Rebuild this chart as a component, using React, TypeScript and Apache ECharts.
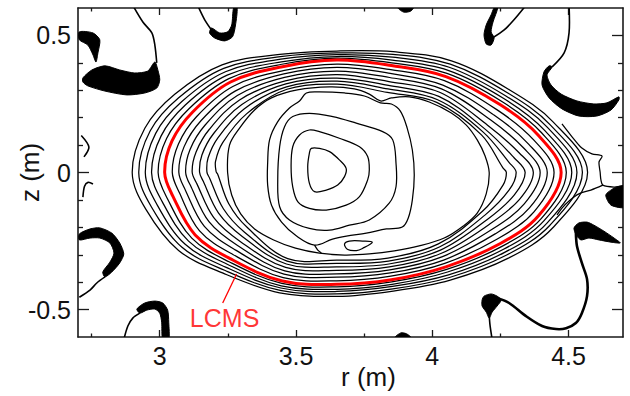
import React, { useEffect, useRef } from "react";
import * as echarts from "echarts";

type P = [number, number];

const R_RANGE: P = [2.7, 4.7];
const Z_RANGE: P = [-0.6, 0.6];
const rMajorTicks = [3, 3.5, 4, 4.5];
const rMinorTicks = [2.75, 3.25, 3.75, 4.25];
const zMajorTicks = [-0.5, 0, 0.5];
const zMinorTicks = [-0.4, -0.3, -0.2, -0.1, 0.1, 0.2, 0.3, 0.4];

// Last closed magnetic surface (r, z) in metres, clockwise from the inboard midplane.
const lcms: P[] = [
  [3.018, 0], [3.045, 0.115], [3.12, 0.22], [3.26, 0.33], [3.45, 0.386],
  [3.65, 0.41], [3.85, 0.39], [4.05, 0.35], [4.25, 0.247], [4.39, 0.135],
  [4.473, 0], [4.39, -0.158], [4.25, -0.259], [4.05, -0.344], [3.85, -0.391],
  [3.65, -0.408], [3.45, -0.396], [3.26, -0.315], [3.13, -0.228], [3.048, -0.086],
];

// Distance (m) of each open flux surface outside the LCMS, at every LCMS sample point.
const outerSurface1 = [0.024, 0.022, 0.018, 0.014, 0.009, 0.007, 0.01, 0.012, 0.013, 0.015, 0.019, 0.014, 0.012, 0.01, 0.008, 0.009, 0.009, 0.012, 0.017, 0.022];
const outerSurface2 = [0.048, 0.044, 0.037, 0.028, 0.018, 0.013, 0.02, 0.024, 0.026, 0.029, 0.039, 0.027, 0.024, 0.02, 0.017, 0.018, 0.018, 0.023, 0.033, 0.044];
const outerSurface3 = [0.071, 0.066, 0.055, 0.042, 0.028, 0.02, 0.031, 0.036, 0.038, 0.044, 0.058, 0.041, 0.036, 0.031, 0.025, 0.026, 0.026, 0.035, 0.05, 0.066];
const outerSurface4 = [0.095, 0.088, 0.073, 0.056, 0.037, 0.026, 0.041, 0.048, 0.051, 0.058, 0.078, 0.054, 0.048, 0.041, 0.034, 0.035, 0.035, 0.047, 0.066, 0.088];
const outerSurface5 = [0.119, 0.11, 0.092, 0.07, 0.046, 0.033, 0.051, 0.061, 0.064, 0.073, 0.097, 0.068, 0.061, 0.051, 0.042, 0.044, 0.044, 0.059, 0.083, 0.11];

// Depth (m) of each closed flux surface inside the LCMS, at every LCMS sample point.
const innerSurface1 = [0.028, 0.026, 0.022, 0.018, 0.015, 0.015, 0.015, 0.016, 0.022, 0.024, 0.026, 0.022, 0.02, 0.013, 0.013, 0.013, 0.013, 0.018, 0.022, 0.027];
const innerSurface2 = [0.052, 0.049, 0.044, 0.037, 0.027, 0.027, 0.029, 0.033, 0.044, 0.048, 0.051, 0.044, 0.04, 0.026, 0.025, 0.026, 0.026, 0.037, 0.046, 0.051];
const innerSurface3 = [0.077, 0.073, 0.066, 0.055, 0.04, 0.04, 0.044, 0.048, 0.066, 0.071, 0.077, 0.068, 0.06, 0.039, 0.036, 0.038, 0.038, 0.055, 0.07, 0.075];
const innerSurface4 = [0.101, 0.097, 0.088, 0.073, 0.053, 0.053, 0.059, 0.062, 0.088, 0.095, 0.102, 0.092, 0.081, 0.052, 0.047, 0.051, 0.051, 0.073, 0.093, 0.099];
const innerSurface5 = [0.128, 0.121, 0.11, 0.092, 0.064, 0.066, 0.073, 0.077, 0.105, 0.121, 0.132, 0.117, 0.1, 0.064, 0.058, 0.064, 0.064, 0.092, 0.117, 0.124];
const innerSurface6 = [0.155, 0.146, 0.132, 0.11, 0.075, 0.077, 0.086, 0.09, 0.118, 0.146, 0.165, 0.143, 0.118, 0.076, 0.069, 0.077, 0.075, 0.11, 0.141, 0.15];
const innerSurface7 = [0.189, 0.176, 0.157, 0.13, 0.084, 0.088, 0.099, 0.1, 0.13, 0.176, 0.201, 0.172, 0.135, 0.088, 0.08, 0.088, 0.084, 0.13, 0.168, 0.183];

// Core contours, traced directly (r, z).
const coreSurface8: P[] = [
  [3.249, 0], [3.256, 0.1], [3.293, 0.162], [3.348, 0.228], [3.41, 0.272], [3.505, 0.301],
  [3.623, 0.312], [3.714, 0.305], [3.769, 0.286], [3.81, 0.261], [3.85, 0.272], [3.916, 0.276],
  [3.989, 0.257], [4.07, 0.217], [4.125, 0.173], [4.165, 0.119], [4.194, 0.06], [4.209, 0],
  [4.198, -0.078], [4.165, -0.148], [4.114, -0.195], [4.044, -0.239], [3.952, -0.268],
  [3.861, -0.286], [3.769, -0.297], [3.678, -0.301], [3.586, -0.294], [3.498, -0.276],
  [3.418, -0.246], [3.348, -0.206], [3.297, -0.151], [3.264, -0.082],
];
const coreNotched: P[] = [
  [3.513, 0.261], [3.538, 0.29], [3.586, 0.294], [3.678, 0.29], [3.751, 0.279], [3.81, 0.254],
  [3.85, 0.25], [3.883, 0.224], [3.908, 0.162], [3.927, 0.082], [3.934, -0.009], [3.927, -0.1],
  [3.912, -0.166], [3.89, -0.199], [3.832, -0.206], [3.758, -0.221], [3.685, -0.232],
  [3.634, -0.243], [3.568, -0.265], [3.502, -0.232], [3.447, -0.181], [3.41, -0.119],
  [3.396, -0.046], [3.396, 0.035], [3.403, 0.119], [3.432, 0.184], [3.476, 0.235],
];
const coreThird: P[] = [
  [3.488, 0.204], [3.549, 0.216], [3.635, 0.204], [3.721, 0.18], [3.818, 0.149], [3.855, 0.119],
  [3.867, 0.034], [3.867, -0.052], [3.842, -0.112], [3.769, -0.173], [3.696, -0.192],
  [3.623, -0.21], [3.549, -0.204], [3.476, -0.173], [3.44, -0.125], [3.433, -0.027],
  [3.44, 0.094], [3.458, 0.167],
];
const coreSecond: P[] = [
  [3.549, 0.155], [3.586, 0.149], [3.659, 0.125], [3.733, 0.094], [3.763, 0.058], [3.769, 0.009],
  [3.763, -0.027], [3.733, -0.088], [3.684, -0.119], [3.611, -0.137], [3.549, -0.131],
  [3.507, -0.107], [3.488, -0.052], [3.482, 0.021], [3.488, 0.094], [3.513, 0.137],
];
const coreInnermost: P[] = [
  [3.556, 0.088], [3.586, 0.088], [3.623, 0.076], [3.659, 0.046], [3.684, 0.015], [3.678, -0.015],
  [3.653, -0.046], [3.611, -0.064], [3.568, -0.07], [3.549, -0.039], [3.543, 0.021], [3.549, 0.07],
];
const lowerIsland: P[] = [
  [3.678, -0.261], [3.696, -0.25], [3.744, -0.25], [3.78, -0.254], [3.744, -0.277], [3.722, -0.285], [3.69, -0.281],
];
const lowerFinger: P[] = [[3.568, -0.265], [3.58, -0.283], [3.593, -0.294]];

// Outboard tail of the outermost surface.
const tailUpper: P[] = [
  [4.476, 0.177], [4.513, 0.13], [4.549, 0.089], [4.586, 0.068], [4.623, 0.06], [4.612, 0.038],
  [4.616, 0.002], [4.619, -0.027], [4.626, -0.046], [4.667, -0.053], [4.7, -0.049],
];
const tailLower: P[] = [
  [4.626, -0.046], [4.582, -0.064], [4.538, -0.078], [4.502, -0.104], [4.476, -0.13], [4.458, -0.155],
];

// Dense contour bundles around the coils (filled).
const bundleUpperLeft: P[] = [
  [2.718, 0.345], [2.751, 0.374], [2.799, 0.389], [2.853, 0.374], [2.908, 0.363], [2.956, 0.37],
  [2.982, 0.403], [2.993, 0.374], [3.0, 0.338], [2.989, 0.308], [2.945, 0.29], [2.879, 0.283],
  [2.799, 0.297], [2.736, 0.316], [2.718, 0.33],
];
const bundleEdgeTop: P[] = [
  [2.705, 0.513], [2.755, 0.509], [2.78, 0.484], [2.773, 0.436], [2.766, 0.403], [2.755, 0.429], [2.736, 0.465], [2.705, 0.484],
];
const bundleTopU: P[] = [
  [3.19, 0.527], [3.22, 0.509], [3.249, 0.513], [3.264, 0.538], [3.271, 0.6], [3.284, 0.6],
  [3.278, 0.538], [3.267, 0.495], [3.238, 0.48], [3.201, 0.491], [3.183, 0.509],
];
const bundleTopMid: P[] = [[3.875, 0.6], [3.895, 0.585], [3.92, 0.588], [3.93, 0.6]];
const bundleTopRight: P[] = [
  [4.19, 0.502], [4.198, 0.538], [4.216, 0.575], [4.227, 0.6], [4.24, 0.6], [4.223, 0.549],
  [4.216, 0.513], [4.227, 0.491], [4.216, 0.465], [4.198, 0.469],
];
const bundleUpperRight: P[] = [
  [4.44, 0.385], [4.421, 0.356], [4.436, 0.319], [4.473, 0.286], [4.531, 0.261], [4.593, 0.25],
  [4.641, 0.254], [4.685, 0.276], [4.685, 0.265], [4.656, 0.228], [4.604, 0.206], [4.538, 0.206],
  [4.476, 0.232], [4.429, 0.272], [4.403, 0.319], [4.41, 0.367], [4.429, 0.389],
];
const bundleLowerLeft: P[] = [
  [2.705, -0.224], [2.744, -0.206], [2.78, -0.202], [2.824, -0.221], [2.853, -0.257], [2.868, -0.297],
  [2.853, -0.33], [2.824, -0.363], [2.799, -0.381], [2.791, -0.363], [2.817, -0.327], [2.832, -0.294],
  [2.817, -0.257], [2.78, -0.239], [2.744, -0.239], [2.705, -0.246],
];
const bundleBottomLeft: P[] = [
  [2.916, -0.498], [2.945, -0.476], [2.982, -0.469], [3.011, -0.476], [3.029, -0.502], [3.033, -0.546],
  [3.033, -0.61], [3.011, -0.61], [3.007, -0.546], [3.0, -0.513], [2.982, -0.498], [2.952, -0.502], [2.927, -0.513],
];
const bundleBottomMid: P[] = [[3.865, -0.6], [3.885, -0.585], [3.905, -0.588], [3.92, -0.6]];
const bundleLowerRightHead: P[] = [
  [4.183, -0.465], [4.19, -0.451], [4.216, -0.443], [4.238, -0.451], [4.253, -0.465], [4.238, -0.487],
  [4.22, -0.509], [4.209, -0.531], [4.198, -0.509], [4.183, -0.487],
];
const bundleLowerRightCoil: P[] = [
  [4.52, -0.203], [4.538, -0.184], [4.568, -0.181], [4.593, -0.192], [4.63, -0.214], [4.667, -0.239],
  [4.69, -0.257], [4.656, -0.254], [4.612, -0.246], [4.575, -0.239], [4.546, -0.246], [4.531, -0.232],
];
const bundleRightCorner: P[] = [
  [4.637, -0.082], [4.667, -0.057], [4.692, -0.049], [4.71, -0.05], [4.71, -0.126], [4.656, -0.119],
];

// Single contour strands between the bundles.
const strandUpperLeft: P[] = [[2.989, 0.4], [2.982, 0.465], [2.971, 0.509], [2.938, 0.549], [2.901, 0.61]];
const strandTopU: P[] = [[3.139, 0.61], [3.165, 0.557], [3.19, 0.52]];
const strandTopRight: P[] = [[4.22, 0.49], [4.264, 0.52], [4.3, 0.557], [4.344, 0.61]];
const strandUpperRight: P[] = [[4.44, 0.385], [4.484, 0.436], [4.502, 0.509], [4.502, 0.61]];
const strandLeftUpper: P[] = [[2.712, 0.135], [2.74, 0.093], [2.722, 0.057]];
const strandLeftLower: P[] = [[2.718, -0.09], [2.724, -0.05], [2.737, -0.036], [2.755, -0.042]];
const strandLowerLeft: P[] = [[2.799, -0.381], [2.769, -0.403], [2.744, -0.429], [2.705, -0.455]];
const strandBottomLeft: P[] = [[2.927, -0.513], [2.901, -0.531], [2.883, -0.56], [2.868, -0.61]];
const strandLowerRightDrop: P[] = [[4.209, -0.52], [4.212, -0.557], [4.22, -0.61]];
const strandLowerRightS: P[] = [
  [4.238, -0.458], [4.282, -0.476], [4.344, -0.524], [4.403, -0.56], [4.454, -0.571], [4.491, -0.568],
  [4.527, -0.549], [4.549, -0.513], [4.568, -0.451], [4.568, -0.389], [4.549, -0.33], [4.531, -0.268], [4.527, -0.217],
];

const lcmsLabelAt: P = [3.238, -0.531];
const lcmsPointer: P[] = [[3.231, -0.476], [3.282, -0.37]];

const FONT = '"Liberation Sans", Arial, Helvetica, sans-serif';

type Shape = { pts: P[]; kind: "loop" | "open" | "fill"; color: string; width: number };

// Shift every LCMS sample along its local normal by the given distance.
function surfaceFrom(dist: number[], outward: boolean): P[] {
  const n = lcms.length;
  return lcms.map((p, i) => {
    const a = lcms[(i - 1 + n) % n];
    const b = lcms[(i + 1) % n];
    const tr = b[0] - a[0];
    const tz = b[1] - a[1];
    const len = Math.hypot(tr, tz);
    const s = outward ? dist[i] : -dist[i];
    return [p[0] - (tz / len) * s, p[1] + (tr / len) * s] as P;
  });
}

function buildShapes(): Shape[] {
  const black = "#000000";
  const shapes: Shape[] = [];
  const loop = (pts: P[], width = 1.25) => shapes.push({ pts, kind: "loop", color: black, width });
  const open = (pts: P[], width = 1.25) => shapes.push({ pts, kind: "open", color: black, width });
  const fill = (pts: P[]) => shapes.push({ pts, kind: "fill", color: black, width: 1 });

  [outerSurface1, outerSurface2, outerSurface3, outerSurface4, outerSurface5].forEach((d) => loop(surfaceFrom(d, true)));
  [innerSurface1, innerSurface2, innerSurface3, innerSurface4, innerSurface5, innerSurface6, innerSurface7].forEach((d) =>
    loop(surfaceFrom(d, false))
  );
  [coreSurface8, coreNotched, coreThird, coreSecond, coreInnermost, lowerIsland].forEach((c) => loop(c));
  open(lowerFinger);
  open(tailUpper);
  open(tailLower);

  [
    bundleUpperLeft, bundleEdgeTop, bundleTopU, bundleTopMid, bundleTopRight, bundleUpperRight,
    bundleLowerLeft, bundleBottomLeft, bundleBottomMid, bundleLowerRightHead, bundleLowerRightCoil, bundleRightCorner,
  ].forEach((b) => fill(b));

  [strandUpperLeft, strandTopU, strandTopRight, strandUpperRight, strandLeftUpper, strandLeftLower,
    strandLowerLeft, strandBottomLeft, strandLowerRightDrop].forEach((s) => open(s, 1.6));
  open(strandLowerRightS, 2.6);

  shapes.push({ pts: lcmsPointer, kind: "open", color: "#ff0000", width: 1.3 });
  shapes.push({ pts: lcms, kind: "loop", color: "#ff0000", width: 3 });
  return shapes;
}

function tickAxis(dim: "x" | "y", position: string, values: number[], len: number, labels: boolean, line: boolean, extra: any = {}) {
  const range = dim === "x" ? R_RANGE : Z_RANGE;
  return {
    type: "value",
    position,
    min: range[0],
    max: range[1],
    axisLine: { show: line, onZero: false, lineStyle: { color: "#1a1a1a", width: 1.6 } },
    axisTick: { show: true, inside: true, length: len, customValues: values, lineStyle: { color: "#1a1a1a", width: 1.3 } },
    axisLabel: labels
      ? { show: true, customValues: values, color: "#111", fontSize: 25, fontFamily: FONT, margin: dim === "x" ? 6 : 7 }
      : { show: false },
    splitLine: { show: false },
    ...extra,
  };
}

export default function App() {
  const ref = useRef<HTMLDivElement>(null);

  useEffect(() => {
    if (!ref.current) return;
    const chart = echarts.init(ref.current, undefined, { renderer: "svg" });
    const shapes = buildShapes();

    const option: any = {
      animation: false,
      backgroundColor: "#ffffff",
      grid: { left: 78, right: 7, top: 8, bottom: 59, containLabel: false, outerBoundsMode: "none" },
      xAxis: [
        tickAxis("x", "bottom", rMajorTicks, 7, true, true, {
          name: "r (m)",
          nameLocation: "middle",
          nameGap: 27,
          nameMoveOverlap: false,
          nameTextStyle: { color: "#111", fontSize: 26, fontFamily: FONT, padding: [0, 0, 0, 36] },
        }),
        tickAxis("x", "bottom", rMinorTicks, 3.5, false, false),
        tickAxis("x", "top", rMajorTicks, 7, false, true),
        tickAxis("x", "top", rMinorTicks, 3.5, false, false),
      ],
      yAxis: [
        tickAxis("y", "left", zMajorTicks, 11, true, true, {
          name: "z (m)",
          nameLocation: "middle",
          nameRotate: 90,
          nameGap: 35,
          nameMoveOverlap: false,
          nameTextStyle: { color: "#111", fontSize: 26, fontFamily: FONT },
        }),
        tickAxis("y", "left", zMinorTicks, 5, false, false),
        tickAxis("y", "right", zMajorTicks, 11, false, true),
        tickAxis("y", "right", zMinorTicks, 5, false, false),
      ],
      series: [
        {
          type: "custom",
          coordinateSystem: "cartesian2d",
          xAxisIndex: 0,
          yAxisIndex: 0,
          clip: true,
          silent: true,
          encode: { x: 0, y: 1 },
          data: shapes.map((s, i) => [s.pts[0][0], s.pts[0][1], i]),
          renderItem: (_params: any, api: any) => {
            const s = shapes[api.value(2)];
            const points = s.pts.map((p) => api.coord(p));
            if (s.kind === "fill") {
              return { type: "polygon", shape: { points, smooth: 0.25 }, style: { fill: "#000", stroke: "#000", lineWidth: 1 } };
            }
            if (s.kind === "loop") {
              return { type: "polygon", shape: { points, smooth: 0.35 }, style: { fill: "none", stroke: s.color, lineWidth: s.width } };
            }
            return { type: "polyline", shape: { points, smooth: 0.3 }, style: { fill: "none", stroke: s.color, lineWidth: s.width } };
          },
        },
        {
          type: "scatter",
          xAxisIndex: 0,
          yAxisIndex: 0,
          silent: true,
          symbolSize: 0,
          data: [lcmsLabelAt],
          label: {
            show: true,
            position: "inside",
            formatter: "LCMS",
            color: "#ff0000",
            fontSize: 25,
            fontFamily: FONT,
          },
        },
      ],
    };

    chart.setOption(option);
    return () => chart.dispose();
  }, []);

  return (
    <div
      ref={ref}
      style={{ position: "fixed", left: 0, top: 0, width: 630, height: 396, background: "#fff" }}
    />
  );
}
